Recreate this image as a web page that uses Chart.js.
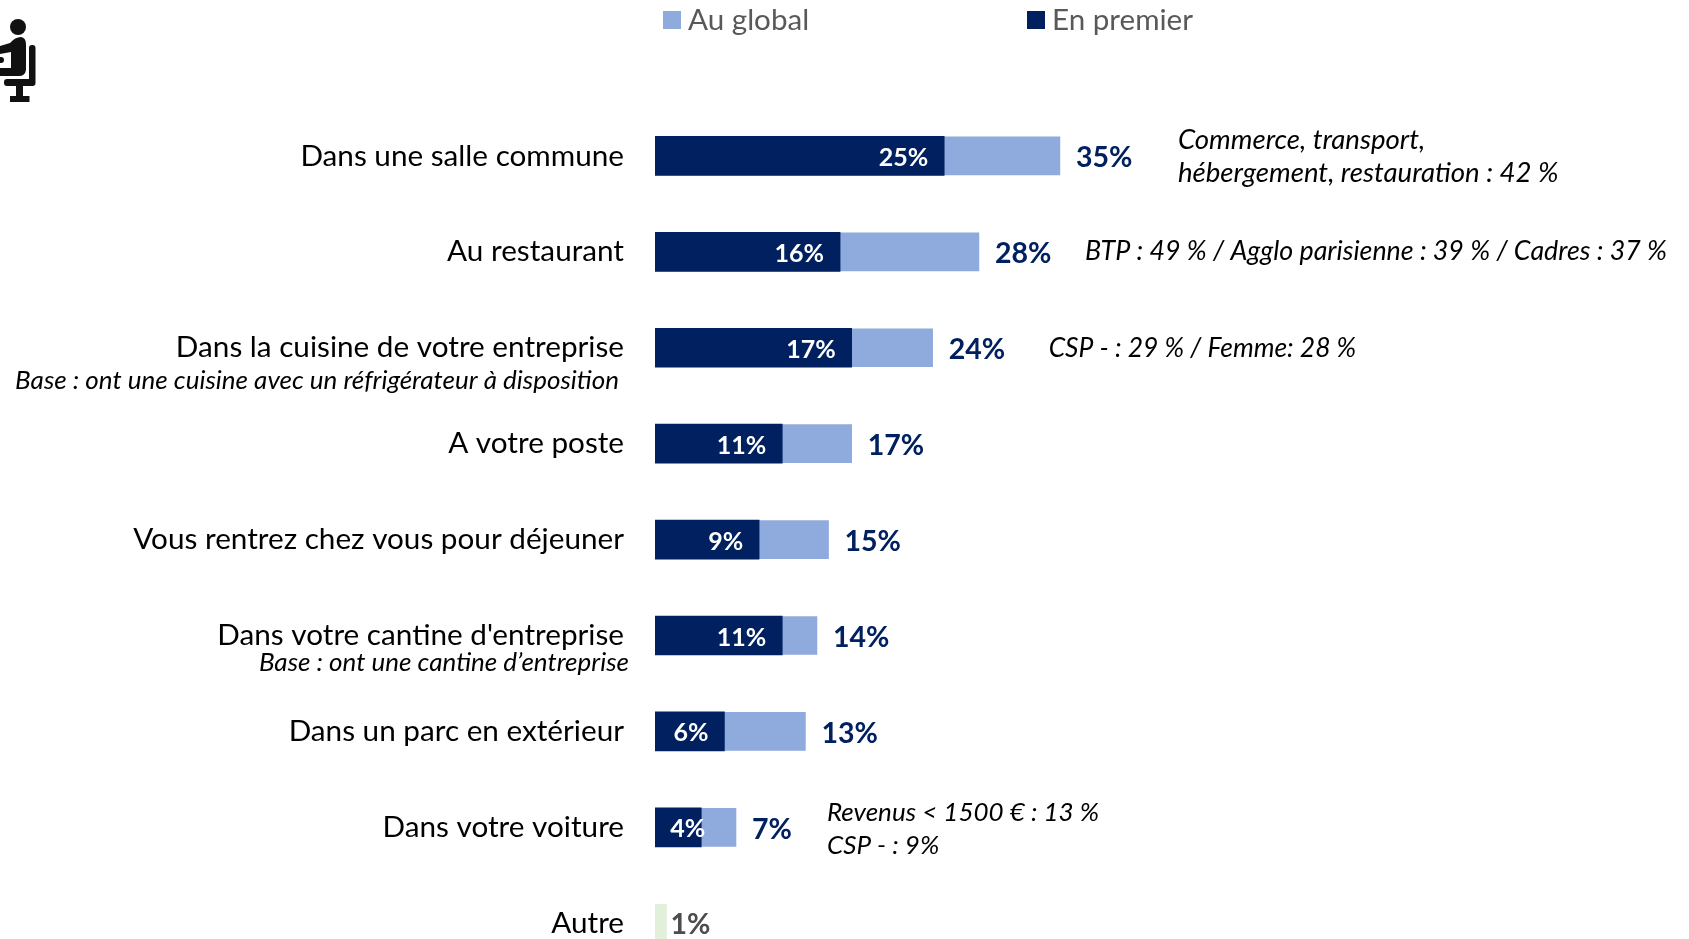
<!DOCTYPE html>
<html lang="fr">
<head>
<meta charset="utf-8">
<title>Lieu du déjeuner</title>
<script src="https://cdn.jsdelivr.net/npm/chart.js@4"></script>
<style>
  html, body { margin: 0; padding: 0; background: #fff; overflow: hidden; }
  canvas { display: block; }
</style>
</head>
<body>
<canvas id="myChart" width="1689" height="1020"></canvas>
<script>
const categories = [
  "Dans une salle commune", "Au restaurant", "Dans la cuisine de votre entreprise",
  "A votre poste", "Vous rentrez chez vous pour déjeuner", "Dans votre cantine d'entreprise",
  "Dans un parc en extérieur", "Dans votre voiture", "Autre"
];
const auGlobal = [35, 28, 24, 17, 15, 14, 13, 7, 1];
const enPremier = [25, 16, 17, 11, 9, 11, 6, 4, null];
const sousTitres = [
  null, null, "Base : ont une cuisine avec un réfrigérateur à disposition",
  null, null, "Base : ont une cantine d’entreprise", null, null, null
];
const notes = [
  ["Commerce, transport,", "hébergement, restauration : 42 %"],
  ["BTP : 49 % / Agglo parisienne : 39 % / Cadres : 37 %"],
  ["CSP - : 29 % / Femme: 28 %"],
  null, null, null, null,
  ["Revenus < 1500 € : 13 %", "CSP - : 9%"],
  null
];

const FONT = 'Lato, "Noto Sans", sans-serif';
const DARK = '#002060';
const LIGHT = '#8faadc';

// placement of the side notes, by row
const noteStyle = {
  0: { gap: 118, size: 27.6, dy: -16 },
  1: { gap: 106, size: 26.8, dy: -1 },
  2: { gap: 116, size: 26.4, dy: 1 },
  7: { gap: 91, size: 26, dy: -15 }
};

// seated person, top left
function drawIcon(ctx) {
  ctx.save();
  ctx.fillStyle = '#111';
  ctx.beginPath();
  ctx.arc(18, 27, 8, 0, Math.PI * 2);
  ctx.fill();
  ctx.beginPath();
  ctx.moveTo(0, 46);
  ctx.lineTo(10, 43);
  ctx.quadraticCurveTo(15, 37, 21, 37);
  ctx.quadraticCurveTo(26, 38, 26, 44);
  ctx.lineTo(26, 70);
  ctx.quadraticCurveTo(25, 76, 19, 76);
  ctx.lineTo(0, 76);
  ctx.lineTo(0, 68);
  ctx.lineTo(11, 68);
  ctx.lineTo(11, 52);
  ctx.lineTo(0, 54);
  ctx.closePath();
  ctx.fill();
  ctx.beginPath();
  ctx.roundRect(29, 45, 6.5, 41, 3);
  ctx.roundRect(4, 79, 31.5, 7, 3);
  ctx.rect(16, 85, 7, 12);
  ctx.rect(10, 96, 19.5, 6);
  ctx.fill();
  ctx.beginPath();
  ctx.arc(1, 60, 3, 0, Math.PI * 2);
  ctx.fill();
  ctx.restore();
}

// legend, data labels, sub-labels and side notes
const annotations = {
  id: 'annotations',
  afterDatasetsDraw(chart) {
    const ctx = chart.ctx;
    const x = chart.scales.x;
    const y = chart.scales.y;
    ctx.save();
    ctx.textBaseline = 'middle';

    // legend
    ctx.font = '29.6px ' + FONT;
    ctx.textAlign = 'left';
    [[663, 0], [1027, 1]].forEach(function (item) {
      const ds = chart.data.datasets[item[1]];
      ctx.fillStyle = ds.legendColor;
      ctx.fillRect(item[0], 11, 18, 18);
      ctx.fillStyle = '#595959';
      ctx.fillText(ds.label, item[0] + 25, 20);
    });

    categories.forEach(function (cat, i) {
      const cy = y.getPixelForValue(i);

      // total at bar end
      const last = i === categories.length - 1;
      ctx.font = 'bold 28.5px ' + FONT;
      ctx.fillStyle = last ? '#4d4d4d' : DARK;
      ctx.textAlign = 'left';
      ctx.fillText(auGlobal[i] + '%', x.getPixelForValue(auGlobal[i]) + (last ? 4 : 16), cy + 2);

      // first choice inside bar
      if (enPremier[i] !== null) {
        ctx.font = 'bold 25px ' + FONT;
        ctx.fillStyle = '#fff';
        ctx.textAlign = 'right';
        ctx.fillText(enPremier[i] + '%', x.getPixelForValue(enPremier[i]) - (enPremier[i] === 4 ? -4 : 16), cy + 2);
      }

      // sub-label under category
      if (sousTitres[i]) {
        ctx.font = 'italic 26px ' + FONT;
        ctx.fillStyle = '#000';
        ctx.textAlign = 'right';
        ctx.fillText(sousTitres[i], i === 2 ? 619 : 629, cy + (i === 2 ? 33 : 27));
      }

      // side notes
      if (notes[i]) {
        const style = noteStyle[i];
        ctx.font = 'italic ' + style.size + 'px ' + FONT;
        ctx.fillStyle = '#000';
        ctx.textAlign = 'left';
        notes[i].forEach(function (line, n) {
          ctx.fillText(line, x.getPixelForValue(auGlobal[i]) + style.gap, cy + style.dy + n * 33);
        });
      }
    });
    ctx.restore();
    drawIcon(ctx);
  }
};

const initChart = function () {
  const ctx = document.getElementById('myChart').getContext('2d');
  new Chart(ctx, {
    type: 'bar',
    data: {
      labels: categories,
      datasets: [
        {
          label: 'Au global',
          legendColor: LIGHT,
          data: auGlobal,
          backgroundColor: auGlobal.map(function (v, i) { return i === 8 ? '#e2efda' : LIGHT; }),
          barThickness: 38,
          grouped: false,
          order: 2
        },
        {
          label: 'En premier',
          legendColor: DARK,
          data: enPremier,
          backgroundColor: DARK,
          barThickness: 39,
          grouped: false,
          order: 1
        }
      ]
    },
    options: {
      indexAxis: 'y',
      responsive: false,
      animation: false,
      layout: { padding: { top: 108, bottom: 2, right: 16 } },
      plugins: { legend: { display: false }, tooltip: { enabled: false } },
      scales: {
        x: { display: false, min: 0, max: 88 },
        y: {
          afterFit: function (scale) { scale.width = 655; },
          border: { display: false },
          grid: { display: false, drawTicks: false },
          ticks: { padding: 31, color: '#000', font: { family: FONT, size: 29.7 }, autoSkip: false }
        }
      }
    },
    plugins: [annotations]
  });
};

initChart();
</script>
</body>
</html>
